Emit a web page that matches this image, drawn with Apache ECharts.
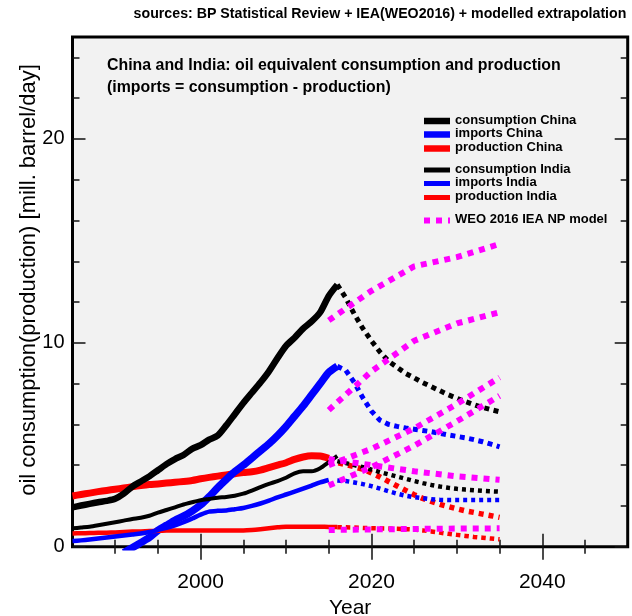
<!DOCTYPE html>
<html>
<head>
<meta charset="utf-8">
<script src="https://cdn.jsdelivr.net/npm/echarts@6/dist/echarts.min.js"></script>
<style>
  html, body { margin: 0; padding: 0; background: #ffffff; }
  #chart { width: 632px; height: 616px; }
</style>
</head>
<body>
<div id="chart"></div>
<script>
// ---------- historical data (BP Statistical Review), mill. barrel/day ----------
const histYears = [1985, 1986, 1987, 1988, 1989, 1990, 1991, 1992, 1993, 1994,
                   1995, 1996, 1997, 1998, 1999, 2000, 2001, 2002, 2003, 2004,
                   2005, 2006, 2007, 2008, 2009, 2010, 2011, 2012, 2013, 2014,
                   2015, 2016];

const consChinaHist = [1.93, 2.02, 2.10, 2.18, 2.25, 2.35, 2.60, 2.95, 3.20, 3.45,
                       3.75, 4.05, 4.30, 4.50, 4.80, 4.98, 5.25, 5.45, 5.95, 6.50,
                       7.05, 7.55, 8.05, 8.60, 9.25, 9.85, 10.25, 10.70, 11.05, 11.50,
                       12.30, 12.85];
const importsChinaHist = [null, null, null, null, null, null, -0.30, -0.05, 0.20, 0.45,
                          0.80, 1.05, 1.30, 1.50, 1.75, 2.05, 2.45, 2.90, 3.30, 3.68,
                          4.00, 4.35, 4.70, 5.05, 5.45, 5.90, 6.40, 6.90, 7.45, 8.00,
                          8.55, 8.85];
const prodChinaHist = [2.49, 2.56, 2.63, 2.70, 2.76, 2.82, 2.88, 2.94, 3.00, 3.05,
                       3.08, 3.12, 3.16, 3.20, 3.25, 3.33, 3.40, 3.46, 3.52, 3.58,
                       3.64, 3.68, 3.76, 3.88, 4.00, 4.12, 4.28, 4.40, 4.46, 4.45,
                       4.33, null];

const consIndiaHist = [0.90, 0.94, 0.98, 1.05, 1.13, 1.20, 1.28, 1.36, 1.42, 1.52,
                       1.67, 1.80, 1.93, 2.07, 2.18, 2.28, 2.34, 2.40, 2.44, 2.50,
                       2.60, 2.75, 2.92, 3.08, 3.22, 3.38, 3.60, 3.70, 3.70, 3.85,
                       4.15, 4.45];
const importsIndiaHist = [0.28, 0.31, 0.35, 0.40, 0.45, 0.50, 0.55, 0.60, 0.65, 0.72,
                          0.82, 0.92, 1.05, 1.20, 1.38, 1.57, 1.72, 1.76, 1.78, 1.84,
                          1.90, 2.00, 2.12, 2.26, 2.42, 2.56, 2.70, 2.85, 3.00, 3.15,
                          3.27, null];
const prodIndiaHist = [0.65, 0.66, 0.67, 0.68, 0.69, 0.70, 0.72, 0.74, 0.75, 0.77,
                       0.78, 0.79, 0.80, 0.80, 0.80, 0.80, 0.80, 0.80, 0.80, 0.80,
                       0.80, 0.82, 0.86, 0.91, 0.95, 0.98, 0.98, 0.98, 0.98, 0.98,
                       0.97, 0.97];

// ---------- modelled extrapolation 2015-2035 ----------
const projYears = [2015, 2016, 2017, 2018, 2019, 2020, 2021, 2022, 2023, 2024,
                   2025, 2026, 2027, 2028, 2029, 2030, 2031, 2032, 2033, 2034, 2035];

const consChinaProj = [null, 12.85, 12.20, 11.40, 10.70, 10.10, 9.55, 9.10, 8.80, 8.50,
                       8.28, 8.05, 7.85, 7.65, 7.45, 7.28, 7.12, 6.97, 6.83, 6.72, 6.62];
const importsChinaProj = [null, 8.85, 8.65, 8.05, 7.30, 6.65, 6.20, 6.00, 5.90, 5.82,
                          5.76, 5.70, 5.64, 5.56, 5.48, 5.41, 5.34, 5.25, 5.15, 5.03, 4.90];
const prodChinaProj = [4.25, 4.12, 4.03, 3.92, 3.80, 3.62, 3.42, 3.20, 2.98, 2.76,
                       2.55, 2.37, 2.22, 2.08, 1.97, 1.86, 1.76, 1.68, 1.60, 1.52, 1.44];

const consIndiaProj = [null, 4.20, 4.10, 4.00, 3.90, 3.78, 3.66, 3.55, 3.44, 3.33,
                       3.22, 3.12, 3.03, 2.95, 2.89, 2.84, 2.80, 2.77, 2.74, 2.72, 2.70];
const importsIndiaProj = [null, 3.25, 3.22, 3.15, 3.07, 2.97, 2.85, 2.72, 2.60, 2.50,
                          2.43, 2.38, 2.33, 2.30, 2.29, 2.29, 2.29, 2.29, 2.29, 2.29, 2.29];
const prodIndiaProj = [null, 0.96, 0.95, 0.94, 0.92, 0.91, 0.90, 0.89, 0.88, 0.86,
                       0.84, 0.80, 0.75, 0.69, 0.63, 0.58, 0.53, 0.48, 0.44, 0.40, 0.36];

// ---------- WEO 2016 IEA New Policies model ----------
const weoYears = [2015, 2020, 2025, 2030, 2035];
const weoConsChina    = [11.10, 12.55, 13.75, 14.20, 14.85];
const weoImportsChina = [6.70, 8.60, 10.10, 10.95, 11.50];
const weoProdChina    = [4.30, 4.00, 3.70, 3.45, 3.28];
const weoConsIndia    = [4.00, 4.80, 5.80, 7.00, 8.30];
const weoImportsIndia = [3.00, 3.90, 4.95, 6.15, 7.40];
const weoProdIndia    = [0.82, 0.85, 0.87, 0.89, 0.90];

// ---------- axis ticks ----------
const xMajorTicks = [2000, 2020, 2040];
const xMinorTicks = [1990, 1995, 2005, 2010, 2015, 2025, 2030, 2035, 2045];
const yMajorTicks = [0, 10, 20];
const yMinorTicks = [2, 4, 6, 8, 12, 14, 16, 18, 22, 24];

// ---------- texts ----------
const sourceText = 'sources: BP Statistical Review + IEA(WEO2016) + modelled extrapolation';
const headLines = ['China and India: oil equivalent consumption and production',
                   '(imports = consumption - production)'];
const xName = 'Year';
const yName = 'oil consumption(production) [mill. barrel/day]';
const legendLabels = ['consumption China', 'imports China', 'production China',
                      'consumption India', 'imports India', 'production India',
                      'WEO 2016 IEA NP model'];

const BLACK = '#000000', BLUE = '#0000ff', RED = '#ff0000', MAGENTA = '#ff00ff';
const FONT = '"Liberation Sans", Arial, Helvetica, sans-serif';

function pairs(xs, ys) {
  return xs.map((x, i) => [x, ys[i]]);
}

function lineSeries(name, xs, ys, color, width, dash, z) {
  return {
    name: name,
    type: 'line',
    xAxisIndex: 0,
    yAxisIndex: 0,
    data: pairs(xs, ys),
    showSymbol: false,
    symbol: 'none',
    connectNulls: false,
    smooth: dash ? false : 0.25,
    clip: true,
    z: z || 2,
    lineStyle: {
      color: color,
      width: width,
      type: dash || 'solid',
      cap: 'butt',
      join: 'round'
    },
    emphasis: { disabled: true },
    silent: true
  };
}

const series = [
  // historical (solid)
  lineSeries('production China', histYears, prodChinaHist, RED, 7),
  lineSeries('imports China', histYears, importsChinaHist, BLUE, 7.5),
  lineSeries('consumption China', histYears, consChinaHist, BLACK, 6.5),
  lineSeries('production India', histYears, prodIndiaHist, RED, 4.5),
  lineSeries('imports India', histYears, importsIndiaHist, BLUE, 4.5),
  lineSeries('consumption India', histYears, consIndiaHist, BLACK, 4),
  // extrapolation (dotted)
  lineSeries('production China', projYears, prodChinaProj, RED, 5.5, [5, 5]),
  lineSeries('imports China', projYears, importsChinaProj, BLUE, 5, [5, 4.5]),
  lineSeries('consumption China', projYears, consChinaProj, BLACK, 5, [5, 4.5]),
  lineSeries('production India', projYears, prodIndiaProj, RED, 4.5, [4.5, 4]),
  lineSeries('imports India', projYears, importsIndiaProj, BLUE, 4.5, [4, 4]),
  lineSeries('consumption India', projYears, consIndiaProj, BLACK, 4.5, [4, 4]),
  // WEO 2016 model (magenta dotted)
  lineSeries('WEO 2016 IEA NP model', weoYears, weoConsChina, MAGENTA, 6, [6, 6], 3),
  lineSeries('WEO 2016 IEA NP model', weoYears, weoImportsChina, MAGENTA, 6, [6, 6], 3),
  lineSeries('WEO 2016 IEA NP model', weoYears, weoProdChina, MAGENTA, 6, [6, 6], 3),
  lineSeries('WEO 2016 IEA NP model', weoYears, weoConsIndia, MAGENTA, 6, [6, 6], 3),
  lineSeries('WEO 2016 IEA NP model', weoYears, weoImportsIndia, MAGENTA, 6, [6, 6], 3),
  lineSeries('WEO 2016 IEA NP model', weoYears, weoProdIndia, MAGENTA, 6, [6, 6], 3)
];

// plot rectangle shared by both grids (second grid only carries the short ticks)
const plotRect = { left: 72.5, right: 4.3, top: 37, bottom: 69.3 };

function xAxisDef(grid, pos, ticks, len, withLabels) {
  return {
    type: 'value', gridIndex: grid, position: pos,
    min: 1985, max: 2050,
    axisLine: { show: false },
    splitLine: { show: false },
    axisTick: { show: true, inside: true, length: len, customValues: ticks,
                lineStyle: { color: '#111', width: 1.5 } },
    axisLabel: withLabels
      ? { show: true, customValues: xMajorTicks, fontSize: 21, color: '#000',
          fontFamily: FONT, margin: 25, formatter: v => String(v) }
      : { show: false },
    name: withLabels ? xName : '',
    nameLocation: 'middle',
    nameGap: 42,
    nameTextStyle: { fontSize: 21, color: '#000', fontFamily: FONT }
  };
}

function yAxisDef(grid, pos, ticks, len, withLabels) {
  return {
    type: 'value', gridIndex: grid, position: pos,
    min: 0, max: 25,
    axisLine: { show: false },
    splitLine: { show: false },
    axisTick: { show: true, inside: true, length: len, customValues: ticks,
                lineStyle: { color: '#111', width: 1.5 } },
    axisLabel: withLabels
      ? { show: true, customValues: yMajorTicks, fontSize: 20, color: '#000',
          fontFamily: FONT, margin: 8, formatter: v => String(v) }
      : { show: false }
  };
}

// legend drawn as graphic rows inside the plot
const legendStyles = [
  { color: BLACK, width: 6.5, dash: null },
  { color: BLUE, width: 6.5, dash: null },
  { color: RED, width: 6.5, dash: null },
  { color: BLACK, width: 5, dash: null },
  { color: BLUE, width: 5, dash: null },
  { color: RED, width: 5, dash: null },
  { color: MAGENTA, width: 6, dash: [6, 6] }
];
const legendRowY = [121, 134.5, 148.5, 170, 183.5, 197.5, 220.5];
const legendGraphics = [];
legendLabels.forEach((label, i) => {
  const st = legendStyles[i];
  legendGraphics.push({
    type: 'line',
    shape: { x1: 424, y1: legendRowY[i], x2: 450, y2: legendRowY[i] },
    style: { stroke: st.color, lineWidth: st.width, lineDash: st.dash, lineCap: 'butt' },
    silent: true, z: 10
  });
  legendGraphics.push({
    type: 'text',
    x: 455, y: legendRowY[i] - 1,
    style: { text: label, fill: '#000', font: 'bold 13px ' + FONT,
             textAlign: 'left', textVerticalAlign: 'middle' },
    silent: true, z: 10
  });
});

const option = {
  animation: false,
  backgroundColor: '#ffffff',
  grid: [
    Object.assign({ show: true, backgroundColor: '#f2f2f2', borderColor: '#000',
                    borderWidth: 3, containLabel: false, outerBoundsMode: 'none' }, plotRect),
    Object.assign({ show: false, containLabel: false, outerBoundsMode: 'none' }, plotRect)
  ],
  xAxis: [
    xAxisDef(0, 'bottom', xMajorTicks, 13, true),
    xAxisDef(0, 'top', xMajorTicks, 13, false),
    xAxisDef(1, 'bottom', xMinorTicks, 7, false),
    xAxisDef(1, 'top', xMinorTicks, 7, false)
  ],
  yAxis: [
    yAxisDef(0, 'left', yMajorTicks, 13, true),
    yAxisDef(0, 'right', yMajorTicks, 13, false),
    yAxisDef(1, 'left', yMinorTicks, 7, false),
    yAxisDef(1, 'right', yMinorTicks, 7, false)
  ],
  series: series,
  graphic: [
    {
      type: 'text', x: 380, y: 14,
      style: { text: sourceText, fill: '#000', font: 'bold 14.2px ' + FONT,
               textAlign: 'center', textVerticalAlign: 'middle' },
      silent: true
    },
    {
      type: 'text', x: 107, y: 66,
      style: { text: headLines[0], fill: '#000', font: 'bold 15.9px ' + FONT,
               textAlign: 'left', textVerticalAlign: 'middle' },
      silent: true, z: 10
    },
    {
      type: 'text', x: 107, y: 88,
      style: { text: headLines[1], fill: '#000', font: 'bold 15.9px ' + FONT,
               textAlign: 'left', textVerticalAlign: 'middle' },
      silent: true, z: 10
    },
    {
      type: 'text', x: 29, y: 280, rotation: Math.PI / 2,
      style: { text: yName, fill: '#000', font: '22px ' + FONT,
               textAlign: 'center', textVerticalAlign: 'middle' },
      silent: true
    }
  ].concat(legendGraphics)
};

const chart = echarts.init(document.getElementById('chart'), null, { renderer: 'canvas' });
chart.setOption(option);
</script>
</body>
</html>
